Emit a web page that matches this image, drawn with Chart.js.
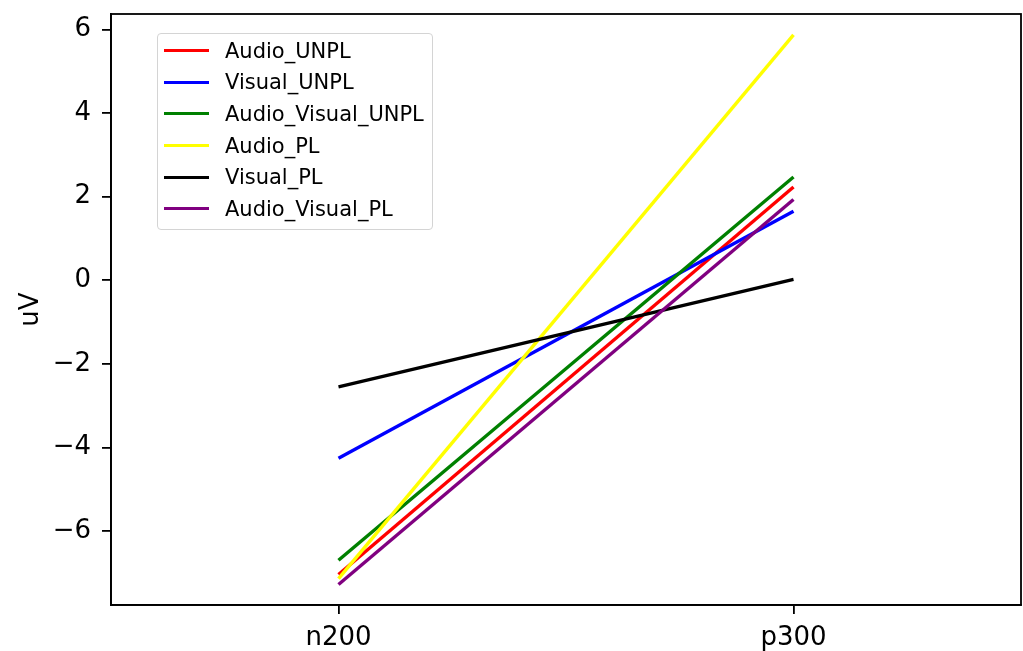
<!DOCTYPE html>
<html>
<head>
<meta charset="utf-8">
<script src="https://cdn.jsdelivr.net/npm/chart.js@4.4.1/dist/chart.umd.min.js"></script>
<style>
  html, body { margin: 0; padding: 0; background: #fff; }
  #wrap { position: relative; width: 1023px; height: 651px; }
  #legend {
    position: absolute; left: 157px; top: 33px; width: 274px; height: 194px;
    border: 1px solid #d4d4d4; border-radius: 4px; background: rgba(255,255,255,0.8);
    font-family: "DejaVu Sans", sans-serif; font-size: 21px; color: #000;
    padding-top: 1px; box-sizing: content-box;
  }
  .row { display: flex; align-items: center; height: 31.6px; }
  .swatch { width: 45px; height: 3px; margin-left: 6px; margin-right: 16px; }
</style>
</head>
<body>
<div id="wrap">
  <canvas id="c" width="1023" height="651"></canvas>
  <div id="legend"></div>
</div>
<script>
const categories = ['n200', 'p300'];
const seriesNames = ['Audio_UNPL', 'Visual_UNPL', 'Audio_Visual_UNPL', 'Audio_PL', 'Visual_PL', 'Audio_Visual_PL'];
const audioUNPL = [-7.04, 2.23];
const visualUNPL = [-4.26, 1.65];
const audioVisualUNPL = [-6.70, 2.47];
const audioPL = [-7.14, 5.87];
const visualPL = [-2.55, 0.02];
const audioVisualPL = [-7.28, 1.93];
const yTicks = [-6, -4, -2, 0, 2, 4, 6];
const colors = ['#ff0000', '#0000ff', '#008000', '#ffff00', '#000000', '#800080'];

const seriesValues = [audioUNPL, visualUNPL, audioVisualUNPL, audioPL, visualPL, audioVisualPL];
const n = seriesValues.length;
const datasets = seriesValues.map((vals, i) => ({
  label: seriesNames[i],
  data: vals,
  borderColor: colors[i],
  backgroundColor: colors[i],
  borderWidth: 3.4,
  pointRadius: 0,
  tension: 0,
  fill: false,
  order: n - i
}));

// HTML legend
const legendEl = document.getElementById('legend');
seriesNames.forEach((name, i) => {
  const row = document.createElement('div');
  row.className = 'row';
  const sw = document.createElement('span');
  sw.className = 'swatch';
  sw.style.background = colors[i];
  const tx = document.createElement('span');
  tx.textContent = name;
  row.appendChild(sw); row.appendChild(tx);
  legendEl.appendChild(row);
});

const frame = {
  id: 'frame',
  afterDraw(chart) {
    const a = chart.chartArea, ctx = chart.ctx;
    ctx.save();
    ctx.strokeStyle = '#000';
    ctx.lineWidth = 1.8;
    ctx.strokeRect(a.left, a.top, a.right - a.left, a.bottom - a.top);
    ctx.restore();
  }
};

const font = { family: 'DejaVu Sans', size: 26 };
new Chart(document.getElementById('c'), {
  type: 'line',
  data: { labels: categories, datasets },
  options: {
    responsive: false,
    animation: false,
    layout: { padding: { top: 14, right: 2, left: 0, bottom: 0 } },
    plugins: { legend: { display: false }, tooltip: { enabled: false } },
    scales: {
      x: {
        type: 'category',
        offset: true,
        grid: { display: true, drawOnChartArea: false, drawTicks: true, tickLength: 9, color: '#000', lineWidth: 1.8, offset: false },
        border: { display: true, color: '#000', width: 1.8 },
        ticks: { color: '#000', font, padding: 9, maxRotation: 0 },
        afterFit(s) { s.height = 46; s.paddingLeft = 0; s.paddingRight = 0; }
      },
      y: {
        min: -7.77, max: 6.37,
        grid: { display: true, drawOnChartArea: false, drawTicks: true, tickLength: 9, color: '#000', lineWidth: 1.8 },
        border: { display: true, color: '#000', width: 1.8 },
        ticks: {
          color: '#000', font, padding: 11,
          callback: (v) => (v < 0 ? '\u2212' + Math.abs(v) : String(v))
        },
        afterBuildTicks(s) { s.ticks = yTicks.map(v => ({ value: v })); },
        title: { display: true, text: 'uV', color: '#000', font, padding: { top: 16, bottom: 0 } },
        afterFit(s) { s.width = 111; s.paddingTop = 0; s.paddingBottom = 0; }
      }
    }
  },
  plugins: [frame]
});
</script>
</body>
</html>
